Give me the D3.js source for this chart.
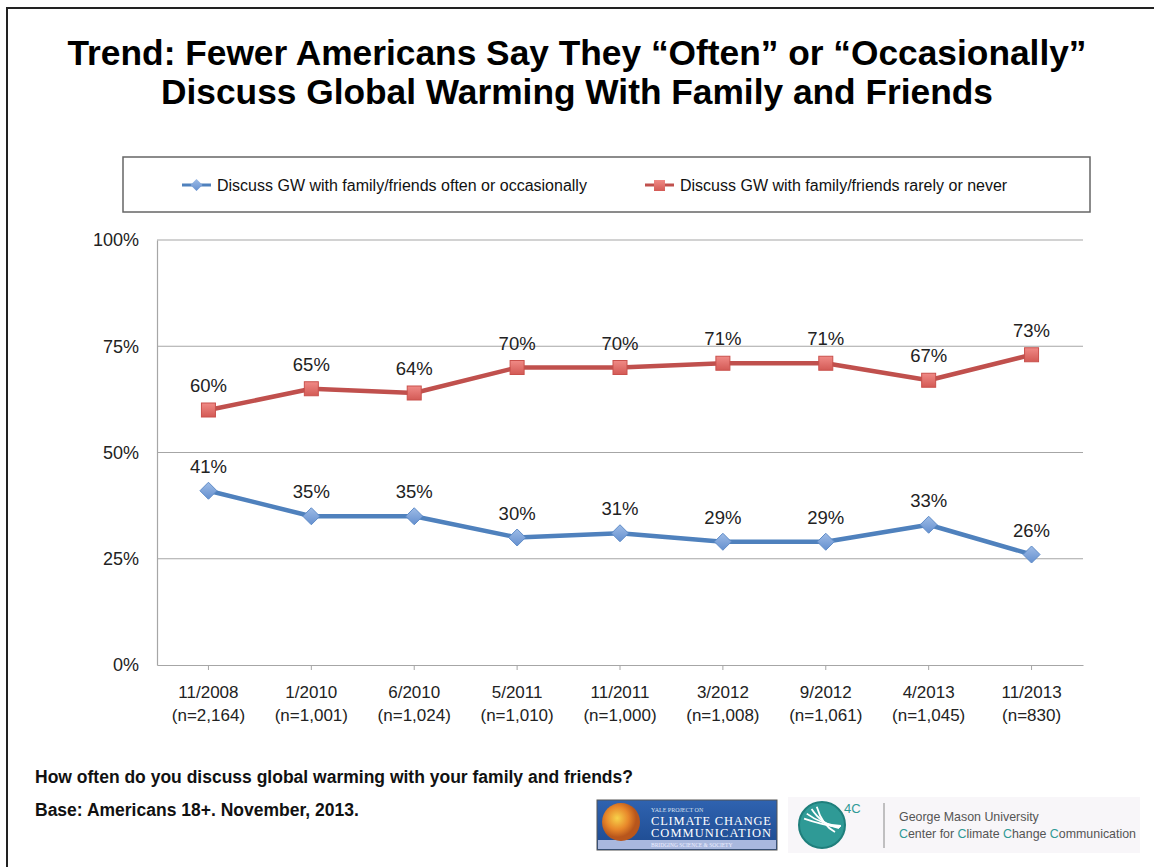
<!DOCTYPE html>
<html>
<head>
<meta charset="utf-8">
<script src="https://cdn.jsdelivr.net/npm/d3@7"></script>
<style>
  html, body { margin: 0; padding: 0; background: #fff; }
  svg { display: block; font-family: "Liberation Sans", Arial, sans-serif; }
</style>
</head>
<body>
<svg id="chart" width="1154" height="867"></svg>
<script>
// Survey waves and sample sizes
const waves = ["11/2008", "1/2010", "6/2010", "5/2011", "11/2011", "3/2012", "9/2012", "4/2013", "11/2013"];
const sampleSizes = ["(n=2,164)", "(n=1,001)", "(n=1,024)", "(n=1,010)", "(n=1,000)", "(n=1,008)", "(n=1,061)", "(n=1,045)", "(n=830)"];

// Percent of Americans by how often they discuss global warming
const oftenValues = [41, 35, 35, 30, 31, 29, 29, 33, 26];
const rarelyValues = [60, 65, 64, 70, 70, 71, 71, 67, 73];

const seriesNames = [
  "Discuss GW with family/friends often or occasionally",
  "Discuss GW with family/friends rarely or never"
];
const yTicks = [0, 25, 50, 75, 100];

const titleLines = [
  "Trend: Fewer Americans Say They \u201COften\u201D or \u201COccasionally\u201D",
  "Discuss Global Warming With Family and Friends"
];
const footLines = [
  "How often do you discuss global warming with your family and friends?",
  "Base: Americans 18+. November, 2013."
];

const svg = d3.select("#chart");
const blue = "#4f81bd", red = "#c0504d";

// Gradients for markers and logos
const defs = svg.append("defs");
function grad(id, c1, c2) {
  const g = defs.append("linearGradient").attr("id", id)
    .attr("x1", 0).attr("y1", 0).attr("x2", 0).attr("y2", 1);
  g.append("stop").attr("offset", "0%").attr("stop-color", c1);
  g.append("stop").attr("offset", "100%").attr("stop-color", c2);
}
grad("gBlue", "#9dbbe6", "#6590cf");
grad("gRed", "#f08a86", "#d35a55");
grad("gYale", "#2f63b0", "#1d4a8f");
const rg = defs.append("radialGradient").attr("id", "gGlobe").attr("cx", "40%").attr("cy", "40%");
rg.append("stop").attr("offset", "0%").attr("stop-color", "#f7d24a");
rg.append("stop").attr("offset", "60%").attr("stop-color", "#e8872a");
rg.append("stop").attr("offset", "100%").attr("stop-color", "#b8561c");

// Slide frame (top and left edges)
svg.append("path").attr("d", "M7,867 V8 H1154")
  .attr("fill", "none").attr("stroke", "#222").attr("stroke-width", 2);

// Title
const title = svg.append("g");
[[titleLines[0], 65, 1019], [titleLines[1], 104, 832]].forEach(([t, y, w]) => {
  title.append("text").attr("x", 577).attr("y", y)
    .attr("text-anchor", "middle")
    .attr("font-size", 35).attr("font-weight", "bold").attr("fill", "#000")
    .attr("textLength", w).attr("lengthAdjust", "spacingAndGlyphs")
    .text(t);
});

// Scales
const x = d3.scaleBand().domain(waves).range([157, 1083]);
const y = d3.scaleLinear().domain([0, 100]).range([665, 240]);
const cx = d => x(d) + x.bandwidth() / 2;

// Gridlines
svg.append("g").selectAll("line").data(yTicks.filter(d => d > 0)).join("line")
  .attr("x1", 157).attr("x2", 1083)
  .attr("y1", d => y(d)).attr("y2", d => y(d))
  .attr("stroke", "#a6a6a6").attr("stroke-width", 1.2);

// Y axis
const yAxis = svg.append("g").attr("transform", "translate(157,0)")
  .call(d3.axisLeft(y).tickValues(yTicks).tickFormat(d => d + "%").tickSize(0).tickPadding(18));
yAxis.select(".domain").attr("stroke", "#a6a6a6").attr("stroke-width", 1.2);
yAxis.selectAll("text").attr("font-size", 18).attr("fill", "#222")
  .attr("font-family", "Liberation Sans, Arial, sans-serif");

// X axis
const xAxis = svg.append("g").attr("transform", "translate(0,665)")
  .call(d3.axisBottom(x).tickSize(5).tickSizeOuter(0).tickFormat(""));
xAxis.select(".domain").attr("stroke", "#a6a6a6").attr("stroke-width", 1.2);
xAxis.selectAll(".tick line").attr("stroke", "#a6a6a6");
const xl = svg.append("g");
waves.forEach((w, i) => {
  const t = xl.append("text").attr("x", cx(w)).attr("text-anchor", "middle")
    .attr("font-size", 17).attr("fill", "#222");
  t.append("tspan").attr("x", cx(w)).attr("y", 698).text(w);
  t.append("tspan").attr("x", cx(w)).attr("y", 721).text(sampleSizes[i]);
});

// Series lines, markers, labels
const line = d3.line().x(d => cx(d.w)).y(d => y(d.v));
const series = [
  { vals: oftenValues, color: blue, fill: "url(#gBlue)", shape: "diamond" },
  { vals: rarelyValues, color: red, fill: "url(#gRed)", shape: "square" }
];
function drawMarker(g, shape, fill, px, py) {
  if (shape === "diamond") {
    g.append("path").attr("d", `M${px},${py - 8.5} L${px + 8.5},${py} L${px},${py + 8.5} L${px - 8.5},${py} Z`)
      .attr("fill", fill).attr("stroke", "#5f8cc8").attr("stroke-width", 1);
  } else {
    g.append("rect").attr("x", px - 7).attr("y", py - 7).attr("width", 14).attr("height", 14)
      .attr("fill", fill).attr("stroke", "#c9514c").attr("stroke-width", 1);
  }
}
series.forEach(s => {
  const pts = s.vals.map((v, i) => ({ w: waves[i], v }));
  svg.append("path").datum(pts).attr("d", line)
    .attr("fill", "none").attr("stroke", s.color).attr("stroke-width", 4.5)
    .attr("stroke-linejoin", "round");
  const g = svg.append("g");
  pts.forEach(p => drawMarker(g, s.shape, s.fill, cx(p.w), y(p.v)));
  svg.append("g").selectAll("text").data(pts).join("text")
    .attr("x", d => cx(d.w)).attr("y", d => y(d.v) - 18)
    .attr("text-anchor", "middle").attr("font-size", 18.5).attr("fill", "#222")
    .text(d => d.v + "%");
});

// Legend
const leg = svg.append("g");
leg.append("rect").attr("x", 123).attr("y", 157).attr("width", 967).attr("height", 55)
  .attr("fill", "#fff").attr("stroke", "#666").attr("stroke-width", 1.5);
[[182, 0], [645, 1]].forEach(([lx, i]) => {
  const s = series[i];
  leg.append("line").attr("x1", lx).attr("x2", lx + 29).attr("y1", 185).attr("y2", 185)
    .attr("stroke", s.color).attr("stroke-width", 3);
  if (s.shape === "diamond") {
    leg.append("path").attr("d", `M${lx + 14.5},179 l6,6 l-6,6 l-6,-6 Z`).attr("fill", s.fill);
  } else {
    leg.append("rect").attr("x", lx + 9).attr("y", 180).attr("width", 11).attr("height", 11).attr("fill", s.fill);
  }
  leg.append("text").attr("x", lx + 35).attr("y", 191).attr("font-size", 16).attr("fill", "#111")
    .text(seriesNames[i]);
});

// Question and base notes
footLines.forEach((t, i) => {
  svg.append("text").attr("x", 35).attr("y", 783 + i * 33)
    .attr("font-size", 17.5).attr("font-weight", "bold").attr("fill", "#111").text(t);
});

// Yale Project on Climate Change Communication logo
const yl = svg.append("g");
yl.append("rect").attr("x", 597).attr("y", 800).attr("width", 180).attr("height", 50)
  .attr("fill", "url(#gYale)").attr("stroke", "#555").attr("stroke-width", 1);
yl.append("rect").attr("x", 598).attr("y", 840).attr("width", 178).attr("height", 9).attr("fill", "#a9b8de");
yl.append("circle").attr("cx", 621).attr("cy", 822).attr("r", 19).attr("fill", "url(#gGlobe)");
yl.append("text").attr("x", 651).attr("y", 812).attr("font-size", 6).attr("fill", "#d8e0f0")
  .attr("font-family", "Liberation Serif, serif").text("YALE PROJECT ON");
yl.append("text").attr("x", 651).attr("y", 825).attr("font-size", 12.5).attr("fill", "#fff")
  .attr("font-family", "Liberation Serif, serif").attr("textLength", 120).text("CLIMATE CHANGE");
yl.append("text").attr("x", 651).attr("y", 837).attr("font-size", 12.5).attr("fill", "#fff")
  .attr("font-family", "Liberation Serif, serif").attr("textLength", 120).text("COMMUNICATION");
yl.append("text").attr("x", 651).attr("y", 847).attr("font-size", 5.5).attr("fill", "#eef")
  .attr("font-family", "Liberation Serif, serif").text("BRIDGING SCIENCE & SOCIETY");

// George Mason University 4C logo
const gm = svg.append("g");
gm.append("rect").attr("x", 788).attr("y", 797).attr("width", 352).attr("height", 56).attr("fill", "#f8f6f9");
gm.append("circle").attr("cx", 822).attr("cy", 825).attr("r", 23).attr("fill", "#2f9a96");
gm.append("circle").attr("cx", 822).attr("cy", 825).attr("r", 23).attr("fill", "none")
  .attr("stroke", "#1f7f7c").attr("stroke-width", 2);
[[-0.2, 0.9], [0.1, 0.95], [0.45, 0.85], [0.75, 0.65]].forEach(([a, b]) => {
  gm.append("path")
    .attr("d", `M${822 + 19 * Math.cos(a - 2.6)},${825 + 19 * Math.sin(a - 2.6)} Q822,825 ${822 + 20 * b},${825 + 20 * (1 - b)}`)
    .attr("fill", "none").attr("stroke", "#fff").attr("stroke-width", 1.8);
});
gm.append("text").attr("x", 844).attr("y", 813).attr("font-size", 13).attr("fill", "#2f9a96").text("4C");
gm.append("line").attr("x1", 884).attr("x2", 884).attr("y1", 803).attr("y2", 848)
  .attr("stroke", "#888").attr("stroke-width", 1);
gm.append("text").attr("x", 899).attr("y", 821).attr("font-size", 12.4).attr("fill", "#555")
  .text("George Mason University");
const cc = gm.append("text").attr("x", 899).attr("y", 838).attr("font-size", 12.4).attr("fill", "#555");
[["C", 1], ["enter for ", 0], ["C", 1], ["limate ", 0], ["C", 1], ["hange ", 0], ["C", 1], ["ommunication", 0]]
  .forEach(([t, hl]) => cc.append("tspan").attr("fill", hl ? "#2f9a96" : "#555").text(t));
</script>
</body>
</html>
